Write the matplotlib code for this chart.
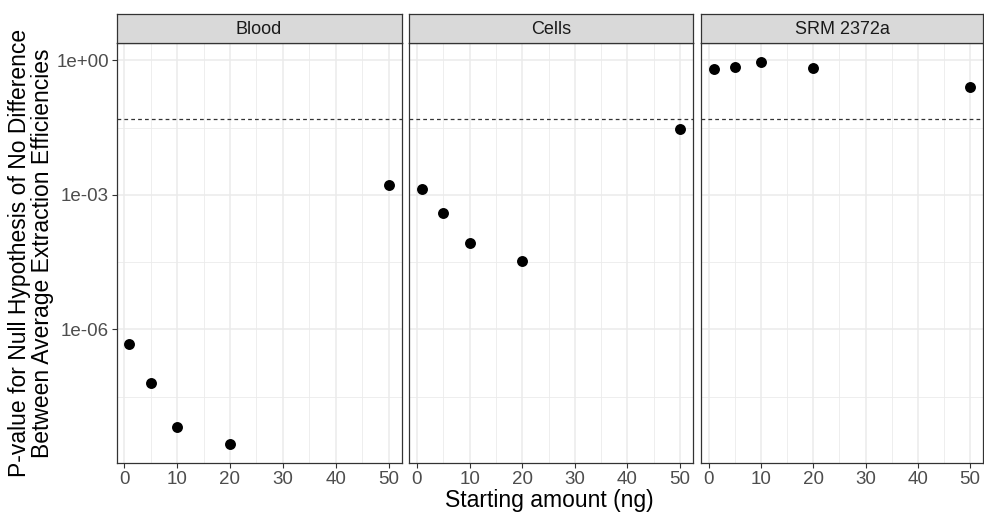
import matplotlib
matplotlib.use("Agg")
import matplotlib.pyplot as plt
import numpy as np

plt.rcParams['font.family'] = ['Liberation Sans', 'DejaVu Sans']

panels = ["Blood", "Cells", "SRM 2372a"]
starting_amount = [1, 5, 10, 20, 50]
pvals_blood = [4.8e-7, 6.5e-8, 6.8e-9, 2.8e-9, 1.7e-3]
pvals_cells = [1.35e-3, 4.0e-4, 8.5e-5, 3.3e-5, 0.0295]
pvals_srm = [0.63, 0.71, 0.92, 0.67, 0.26]
threshold = 0.05
x_ticks = [0, 10, 20, 30, 40, 50]
y_ticks = [1e-6, 1e-3, 1e0]
y_tick_labels = ["1e-06", "1e-03", "1e+00"]

series = [pvals_blood, pvals_cells, pvals_srm]

W, H = 984, 512
fig = plt.figure(figsize=(W / 100, H / 100), dpi=100)

lefts = [116.5, 409.3, 701.0]
rights = [401.7, 693.0, 983.0]
top_px, bot_px, strip_top_px = 43.0, 463.0, 14.0

# shared limits (ggplot-style 5% expansion)
all_vals = np.log10(np.concatenate([np.array(s) for s in series]))
lo, hi = all_vals.min(), all_vals.max()
ext = 0.05 * (hi - lo)
ylim = (10 ** (lo - ext), 10 ** (hi + ext))
xs = np.array(starting_amount)
xext = 0.05 * (xs.max() - xs.min())
xlim = (xs.min() - xext, xs.max() + xext)

dark = '#333333'
tickcol = '#4D4D4D'
gridcol = '#EBEBEB'

for i, (name, vals) in enumerate(zip(panels, series)):
    l = lefts[i] / W
    w = (rights[i] - lefts[i]) / W
    b = 1 - bot_px / H
    h = (bot_px - top_px) / H
    ax = fig.add_axes([l, b, w, h])
    ax.set_yscale('log')
    ax.set_xlim(*xlim)
    ax.set_ylim(*ylim)
    # grid
    for gx in [5, 15, 25, 35, 45]:
        ax.axvline(gx, color=gridcol, lw=0.6, zorder=0)
    for gx in x_ticks:
        ax.axvline(gx, color=gridcol, lw=1.1, zorder=0)
    for gy in [10 ** -1.5, 10 ** -4.5, 10 ** -7.5]:
        ax.axhline(gy, color=gridcol, lw=0.6, zorder=0)
    for gy in y_ticks:
        ax.axhline(gy, color=gridcol, lw=1.1, zorder=0)
    ax.axhline(threshold, color='#333333', lw=0.9, ls=(0, (3, 2.5)), zorder=1)
    ax.scatter(starting_amount, vals, s=62, color='black', zorder=3, linewidths=0)
    ax.set_xticks(x_ticks)
    ax.set_xticklabels([str(t) for t in x_ticks])
    ax.minorticks_off()
    ax.set_yticks(y_ticks)
    ax.yaxis.set_minor_locator(matplotlib.ticker.NullLocator())
    if i == 0:
        ax.set_yticklabels(y_tick_labels)
    else:
        ax.tick_params(axis='y', left=False, labelleft=False)
    ax.tick_params(axis='both', direction='out', length=3.5, width=0.8, color=dark,
                   labelsize=13.5, labelcolor=tickcol, pad=2)
    for sp in ax.spines.values():
        sp.set_color(dark)
        sp.set_linewidth(0.9)
    # strip
    sax = fig.add_axes([l, 1 - top_px / H, w, (top_px - strip_top_px) / H])
    sax.set_facecolor('#D9D9D9')
    sax.set_xticks([])
    sax.set_yticks([])
    for sp in sax.spines.values():
        sp.set_color(dark)
        sp.set_linewidth(0.9)
    sax.text(0.5, 0.48, name, ha='center', va='center', fontsize=13, color='#1A1A1A',
             transform=sax.transAxes)

fig.text((lefts[0] + rights[2]) / 2 / W, 1 - 500 / H, "Starting amount (ng)",
         ha='center', va='center', fontsize=16.5, color='black')
fig.text(31 / W, 1 - ((top_px + bot_px) / 2) / H,
         "P-value for Null Hypothesis of No Difference\nBetween Average Extraction Efficiencies",
         ha='center', va='center', rotation=90, fontsize=16.5, color='black', linespacing=1.0)

fig.savefig("out.png", dpi=100)
